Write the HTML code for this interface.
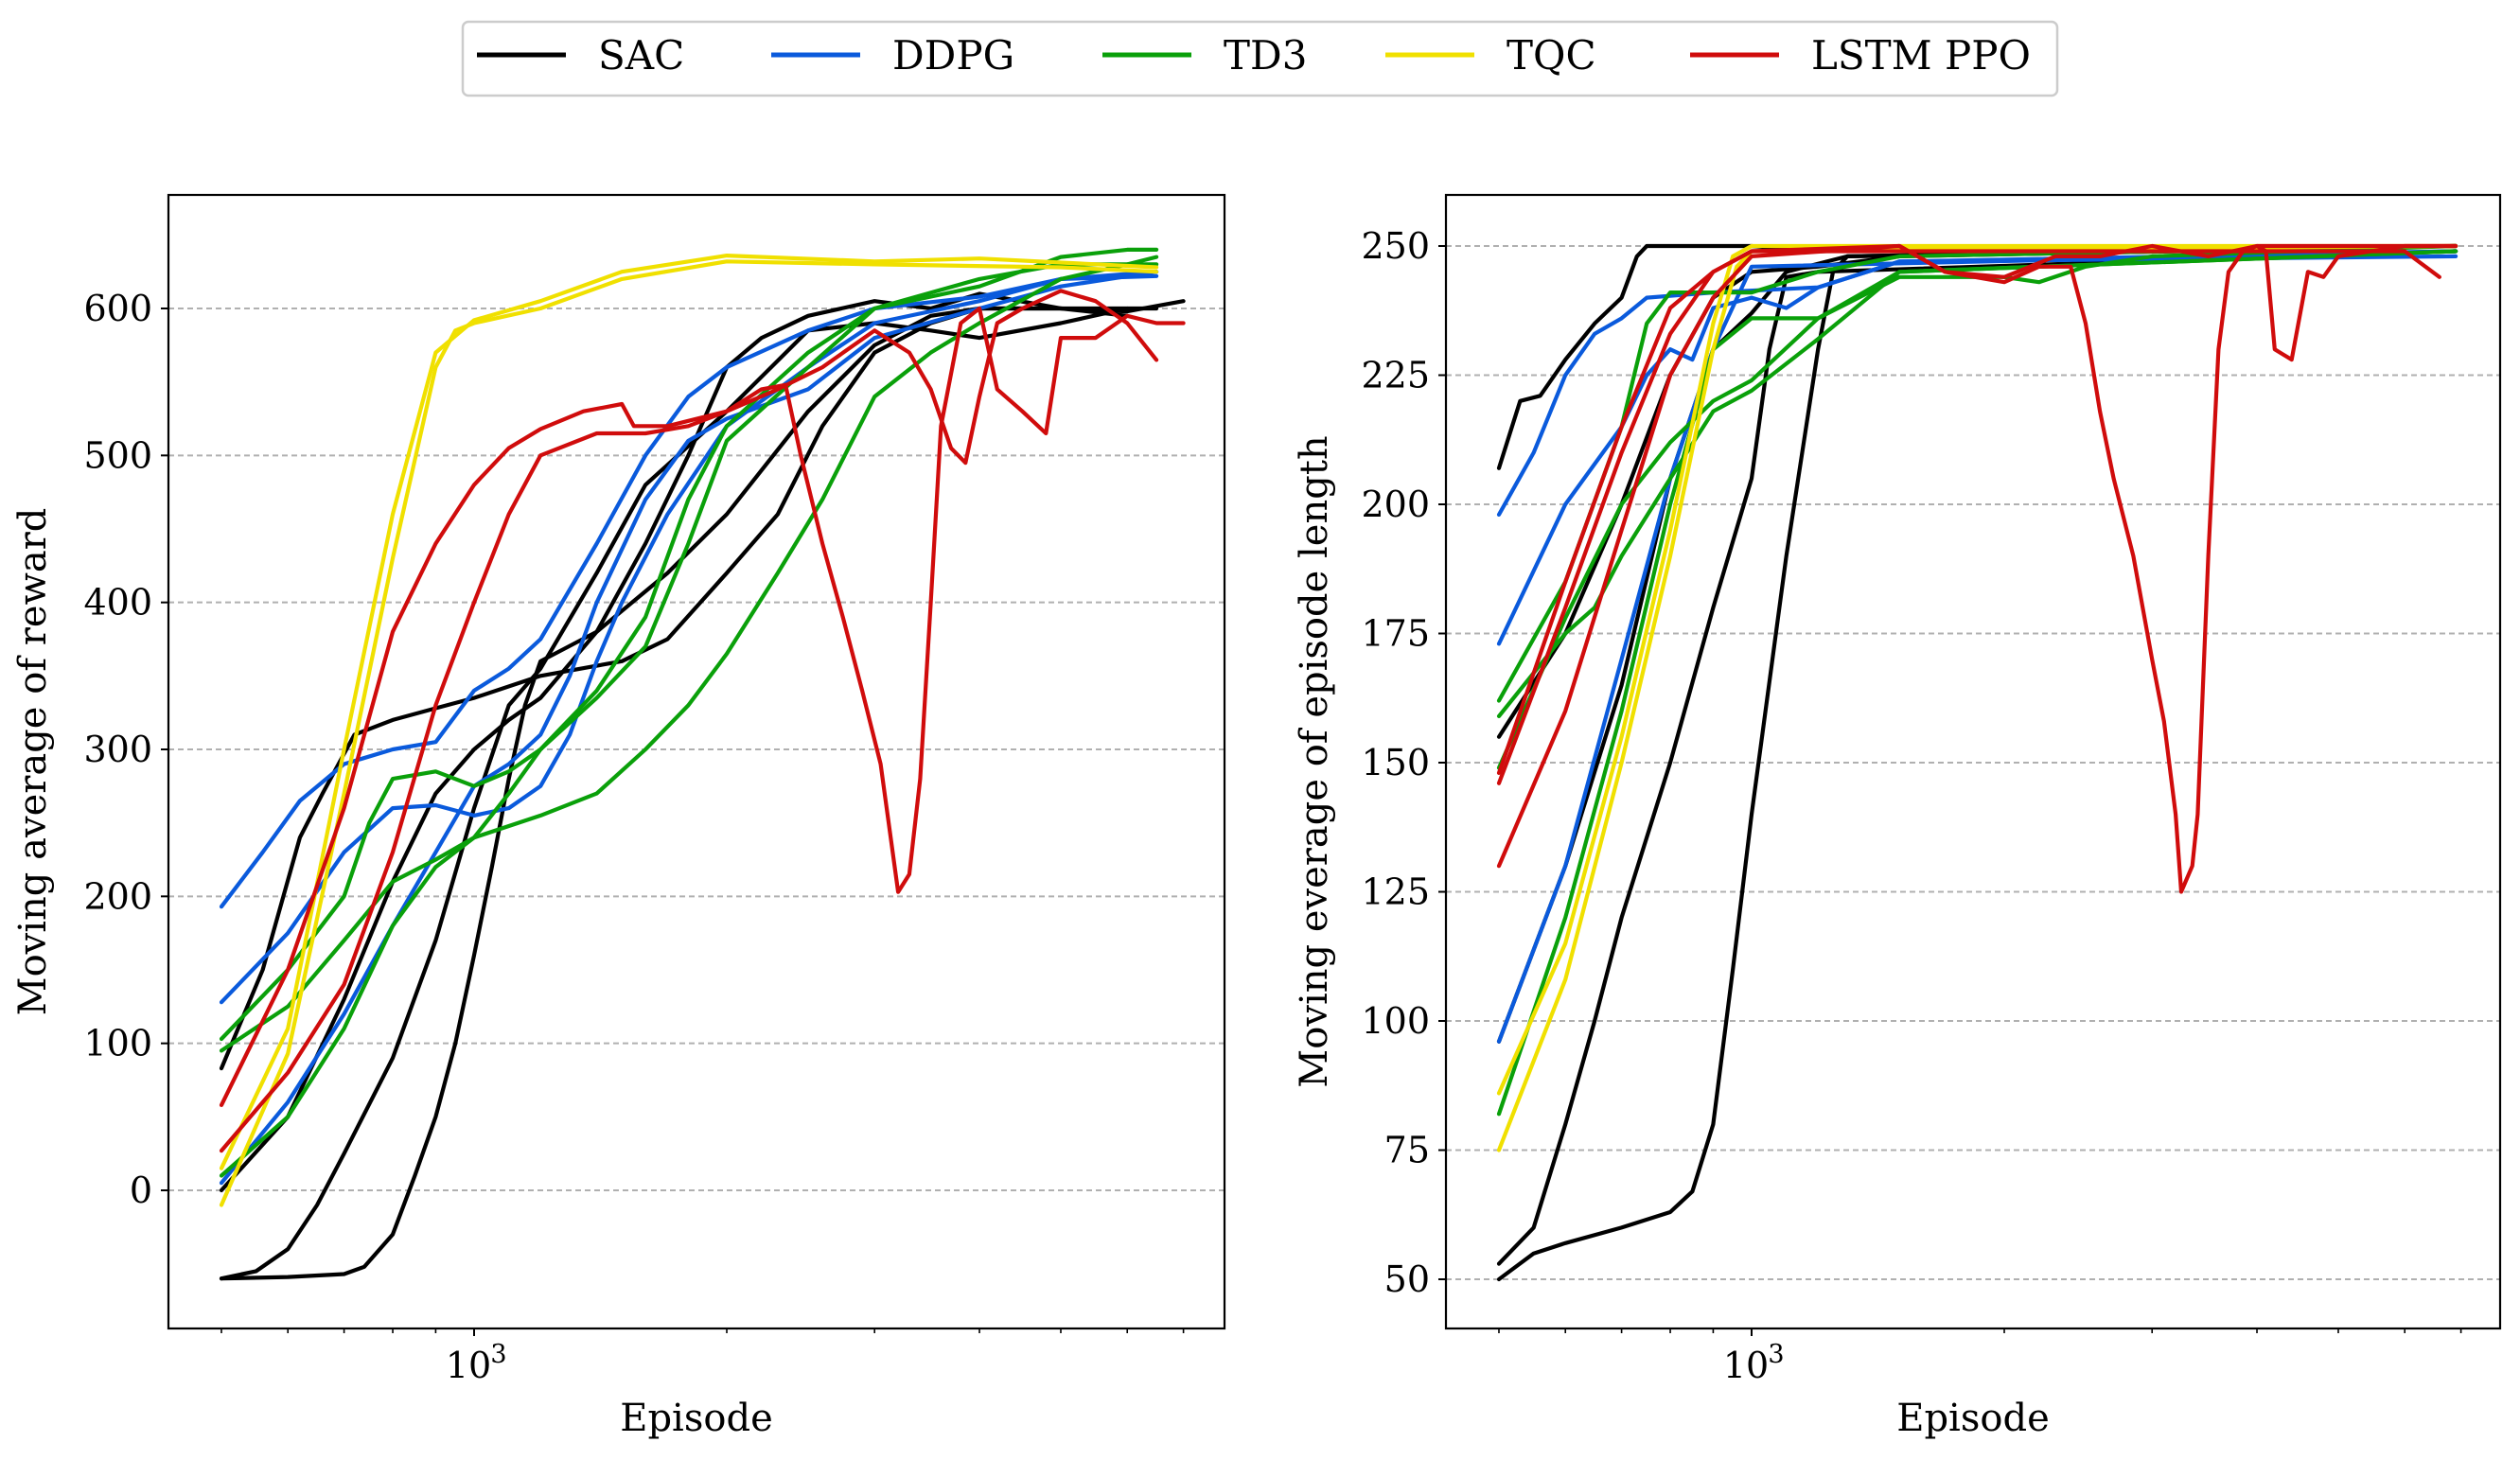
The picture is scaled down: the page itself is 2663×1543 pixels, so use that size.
<!DOCTYPE html>
<html><head><meta charset="utf-8">
<style>
html,body{margin:0;padding:0;background:#fff;}
svg{display:block;font-family:"DejaVu Serif","Liberation Serif",serif;}
</style></head>
<body>
<svg id="chart" width="2663" height="1543" viewBox="0 0 2663 1543" xmlns="http://www.w3.org/2000/svg">
  <rect width="2663" height="1543" fill="#fff"/>
  <g id="legend">
    <rect x="489" y="23" width="1685" height="78" rx="6" fill="#fff" stroke="#cccccc" stroke-width="2.5"/>
  </g>
  <g id="left"></g>
  <g id="right"></g>
</svg>
<script>
// ---- categories ----
const algorithms = ["SAC","DDPG","TD3","TQC","LSTM PPO"];
const algoColors = ["#000000","#0a5adc","#0aa00a","#f0e000","#d00c0c"];
const rewardTicks = [0,100,200,300,400,500,600];
const lengthTicks = [50,75,100,125,150,175,200,225,250];
const minorEpisodes = [500,600,700,800,900,2000,3000,4000,5000,6000,7000];

// ---- Reward runs (episode arrays, value arrays) ----
const sacRew1Ep = [500,560,620,660,720,800,900,1000,1200,1500,1700,2000,2300,2600,3000,3500,4000,5000,6000,7000];
const sacRew1 =   [83,150,240,270,310,320,328,335,350,360,375,420,460,520,570,590,600,600,598,605];
const sacRew2Ep = [500,600,700,800,900,1000,1100,1200,1400,1600,1800,2000,2200,2500,3000,3500,4000,5000,6500];
const sacRew2 =   [0,50,130,210,270,300,320,335,380,440,500,560,580,595,605,600,610,600,600];
const sacRew3Ep = [500,550,600,650,700,800,900,1000,1100,1200,1400,1600,2000,2500,3000,3500,4000,5000,6000];
const sacRew3 =   [-60,-55,-40,-10,25,90,170,260,330,355,420,480,530,585,590,585,580,590,600];
const sacRew4Ep = [500,600,700,740,800,850,900,950,1000,1050,1100,1150,1200,1400,1700,2000,2500,3000,3500,4000,5000,6000];
const sacRew4 =   [-60,-59,-57,-52,-30,10,50,100,160,220,280,330,360,380,420,460,530,575,595,600,600,595];

const ddpgRew1Ep = [500,560,620,700,800,900,1000,1100,1200,1400,1600,1800,2000,2500,3000,4000,5000,6500];
const ddpgRew1 =   [193,230,265,290,300,305,340,355,375,440,500,540,560,585,600,608,620,622];
const ddpgRew2Ep = [500,600,700,800,900,1000,1100,1200,1300,1400,1500,1700,2000,2500,3000,4000,5000,6500];
const ddpgRew2 =   [128,175,230,260,262,255,260,275,310,360,400,460,520,560,590,605,620,625];
const ddpgRew3Ep = [500,600,700,800,900,1000,1100,1200,1300,1400,1600,1800,2000,2500,3000,4000,5000,6500];
const ddpgRew3 =   [5,60,120,180,230,275,290,310,350,400,470,510,525,545,580,600,615,625];

const td3Rew1Ep = [500,600,700,750,800,900,1000,1100,1200,1400,1600,1800,2000,2500,3000,4000,5000,6000,6500];
const td3Rew1 =   [103,150,200,250,280,285,275,285,300,340,390,470,520,570,600,615,635,640,640];
const td3Rew2Ep = [500,600,700,800,900,1000,1200,1400,1600,1800,2000,2300,2600,3000,3500,4000,5000,6000,6500];
const td3Rew2 =   [95,125,170,210,225,240,255,270,300,330,365,420,470,540,570,590,620,630,635];
const td3Rew3Ep = [500,600,700,800,900,1000,1100,1200,1400,1600,1800,2000,2500,3000,4000,5000,6500];
const td3Rew3 =   [10,50,110,180,220,240,270,300,335,370,440,510,560,600,620,630,630];

const tqcRew1Ep = [500,600,700,800,900,950,1000,1200,1500,2000,3000,5000,6500];
const tqcRew1 =   [-10,93,270,430,560,585,590,600,620,632,630,628,625];
const tqcRew2Ep = [500,600,700,800,900,1000,1200,1500,2000,3000,4000,6500];
const tqcRew2 =   [15,110,300,460,570,592,605,625,636,632,634,628];

const ppoRew1Ep = [500,600,700,800,900,1000,1100,1200,1350,1500,1550,1700,2000,2300,2600,3000,3300,3500,3700,3850,4000,4200,4500,5000,5500,6000,6500];
const ppoRew1 =   [58,150,260,380,440,480,505,518,530,535,520,520,530,545,560,585,570,545,505,495,540,590,600,612,605,590,565];
const ppoRew2Ep = [500,600,700,800,900,1000,1100,1200,1400,1600,1800,2000,2200,2350,2450,2600,2750,2900,3050,3200,3300,3400,3500,3600,3800,4000,4200,4500,4800,5000,5500,6000,6500,7000];
const ppoRew2 =   [27,80,140,230,330,400,460,500,515,515,520,530,545,548,500,440,390,340,290,203,215,280,400,520,590,600,545,530,515,580,580,595,590,590];

// ---- Episode length runs ----
const sacLen1Ep = [500,530,560,600,650,700,730,750,1000,1200,6900];
const sacLen1 =   [207,220,221,228,235,240,248,250,250,249,250];
const sacLen2Ep = [500,600,700,800,900,1000,1200,1500,6900];
const sacLen2 =   [155,175,200,225,240,245,246,248,250];
const sacLen3Ep = [500,600,700,800,900,1000,1100,1300,6900];
const sacLen3 =   [96,130,165,205,230,237,245,248,250];
const sacLen4Ep = [500,550,600,650,700,800,900,1000,1050,1100,1200,6900];
const sacLen4 =   [53,60,80,100,120,150,180,205,230,244,245,249];
const sacLen5Ep = [500,550,600,700,800,850,900,950,1000,1100,1200,1250,1300,6900];
const sacLen5 =   [50,55,57,60,63,67,80,110,140,190,230,245,248,250];

const ddpgLen1Ep = [500,550,600,650,700,750,900,1200,1500,6900];
const ddpgLen1 =   [198,210,225,233,236,240,241,242,247,248];
const ddpgLen2Ep = [500,600,700,750,800,850,900,1000,1100,1200,1500,6900];
const ddpgLen2 =   [173,200,215,225,230,228,238,240,238,242,247,249];
const ddpgLen3Ep = [500,600,700,800,900,1000,6900];
const ddpgLen3 =   [96,130,170,205,230,246,249];

const td3Len1Ep = [500,600,700,750,800,1000,1200,1500,6900];
const td3Len1 =   [162,185,215,235,241,241,245,248,250];
const td3Len2Ep = [500,600,700,800,900,1000,1200,1500,2000,2200,2500,3000,6900];
const td3Len2 =   [149,178,200,212,220,224,236,244,244,243,246,248,250];
const td3Len3Ep = [500,600,700,800,900,1000,1200,1500,6900];
const td3Len3 =   [82,120,160,200,230,236,236,245,249];
const td3Len4Ep = [500,600,650,700,800,900,1000,1200,1500,6900];
const td3Len4 =   [159,175,180,190,205,218,222,232,245,249];

const tqcLen1Ep = [500,600,700,800,900,950,1000,6900];
const tqcLen1 =   [86,115,155,195,235,248,250,250];
const tqcLen2Ep = [500,600,700,800,900,960,1000,6900];
const tqcLen2 =   [75,108,150,190,230,246,249,250];

const ppoLen1Ep = [500,600,700,800,900,1000,1500,1700,2000,2300,2600,3000,3500,4000,6900];
const ppoLen1 =   [146,180,210,233,245,249,250,245,244,248,248,250,248,250,250];
const ppoLen2Ep = [500,600,700,800,900,1000,1500,1700,2000,2200,2400,2500,2600,2700,2850,3000,3100,3200,3250,3350,3400,3500,3600,3700,3850,4000,4100,4200,4400,4600,4800,5000,6000,6900];
const ppoLen2 =   [130,160,195,225,240,248,250,245,243,246,246,235,218,205,190,170,158,140,125,130,140,190,230,245,249,250,249,230,228,245,244,248,250,250];
const ppoLen3Ep = [500,600,700,800,900,1000,6000,6600];
const ppoLen3 =   [148,185,215,238,245,249,249,244];

// ---- axis functions ----
const PX_DEC = 887;
function xLeft(ep){ return 501 + PX_DEC*Math.log10(ep/1000); }
function xRight(ep){ return 1851 + PX_DEC*Math.log10(ep/1000); }
function yReward(v){ return 1258 - v*(932/600); }
function yLength(v){ return 1352 - (v-50)*(1092/200); }

const NS = "http://www.w3.org/2000/svg";
function mk(tag, attrs, parent){
  const e = document.createElementNS(NS, tag);
  for (const k in attrs) e.setAttribute(k, attrs[k]);
  parent.appendChild(e);
  return e;
}

function drawPanel(g, box, xf, yf, ticks, ylabel, ylabX, runs, prefix){
  ticks.forEach(t=>{
    const gl = mk("line",{x1:box.l,x2:box.r,y1:yf(t),y2:yf(t),stroke:"#b0b0b0","stroke-width":2,"stroke-dasharray":"6,4"},g);
    
    
  });
  const cid = prefix+"-clip";
  const cp = mk("clipPath",{id:cid},g);
  mk("rect",{x:box.l,y:box.t,width:box.r-box.l,height:box.b-box.t},cp);
  const lines = mk("g",{"clip-path":"url(#"+cid+")"},g);
  runs.forEach(run=>{
    let d = "";
    run.ep.forEach((e,i)=>{ d += (i?"L":"M") + xf(e).toFixed(1) + "," + yf(run.v[i]).toFixed(1); });
    const p = mk("path",{d:d,fill:"none",stroke:algoColors[run.a],"stroke-width":4.2,"stroke-linejoin":"round","stroke-linecap":"round"},lines);
    
    
  });
  const fr = mk("rect",{x:box.l,y:box.t,width:box.r-box.l,height:box.b-box.t,fill:"none",stroke:"#000","stroke-width":2.2},g);
  
  
  ticks.forEach(t=>{
    const y = yf(t);
    mk("line",{x1:box.l-8,x2:box.l,y1:y,y2:y,stroke:"#000","stroke-width":2},g);
    const tx = mk("text",{x:box.l-17,y:y+13,"text-anchor":"end","font-size":38,fill:"#000"},g);
    tx.textContent = t;
    
    
  });
  const mx = xf(1000);
  mk("line",{x1:mx,x2:mx,y1:box.b,y2:box.b+8,stroke:"#000","stroke-width":2},g);
  minorEpisodes.forEach(e=>{
    const x = xf(e);
    if (x>box.l && x<box.r) mk("line",{x1:x,x2:x,y1:box.b,y2:box.b+5,stroke:"#000","stroke-width":1.6},g);
  });
  const xt = mk("text",{x:mx-6,y:box.b+52,"text-anchor":"middle","font-size":38,fill:"#000"},g);
  xt.textContent = "10";
  
  
  const sup = mk("text",{x:mx+26,y:box.b+36,"text-anchor":"middle","font-size":27,fill:"#000"},g);
  sup.textContent = "3";
  const xl = mk("text",{x:(box.l+box.r)/2,y:1512,"text-anchor":"middle","font-size":40,fill:"#000"},g);
  xl.textContent = "Episode";
  
  
  const cy = (box.t+box.b)/2;
  const yl = mk("text",{x:ylabX,y:cy,"text-anchor":"middle","font-size":40,fill:"#000",transform:"rotate(-90 "+ylabX+" "+cy+")"},g);
  yl.textContent = ylabel;
  
  
}

const leftRuns = [
  {a:0,ep:sacRew1Ep,v:sacRew1},{a:0,ep:sacRew2Ep,v:sacRew2},{a:0,ep:sacRew3Ep,v:sacRew3},{a:0,ep:sacRew4Ep,v:sacRew4},
  {a:1,ep:ddpgRew1Ep,v:ddpgRew1},{a:1,ep:ddpgRew2Ep,v:ddpgRew2},{a:1,ep:ddpgRew3Ep,v:ddpgRew3},
  {a:2,ep:td3Rew1Ep,v:td3Rew1},{a:2,ep:td3Rew2Ep,v:td3Rew2},{a:2,ep:td3Rew3Ep,v:td3Rew3},
  {a:3,ep:tqcRew1Ep,v:tqcRew1},{a:3,ep:tqcRew2Ep,v:tqcRew2},
  {a:4,ep:ppoRew1Ep,v:ppoRew1},{a:4,ep:ppoRew2Ep,v:ppoRew2}
];
const rightRuns = [
  {a:0,ep:sacLen1Ep,v:sacLen1},{a:0,ep:sacLen2Ep,v:sacLen2},{a:0,ep:sacLen3Ep,v:sacLen3},{a:0,ep:sacLen4Ep,v:sacLen4},{a:0,ep:sacLen5Ep,v:sacLen5},
  {a:1,ep:ddpgLen1Ep,v:ddpgLen1},{a:1,ep:ddpgLen2Ep,v:ddpgLen2},{a:1,ep:ddpgLen3Ep,v:ddpgLen3},
  {a:2,ep:td3Len1Ep,v:td3Len1},{a:2,ep:td3Len2Ep,v:td3Len2},{a:2,ep:td3Len3Ep,v:td3Len3},{a:2,ep:td3Len4Ep,v:td3Len4},
  {a:3,ep:tqcLen1Ep,v:tqcLen1},{a:3,ep:tqcLen2Ep,v:tqcLen2},
  {a:4,ep:ppoLen1Ep,v:ppoLen1},{a:4,ep:ppoLen2Ep,v:ppoLen2},{a:4,ep:ppoLen3Ep,v:ppoLen3}
];

drawPanel(document.getElementById("left"),{l:178,r:1294,t:206,b:1404},xLeft,yReward,rewardTicks,"Moving average of reward",48,leftRuns,"reward");
drawPanel(document.getElementById("right"),{l:1528,r:2642,t:206,b:1404},xRight,yLength,lengthTicks,"Moving everage of episode length",1402,rightRuns,"length");

const lg = document.getElementById("legend");
const legLineX = [504,815,1165,1464,1786];
algorithms.forEach((name,i)=>{
  const ln = mk("line",{x1:legLineX[i],x2:legLineX[i]+94,y1:58,y2:58,stroke:algoColors[i],"stroke-width":5},lg);
  
  
  const t = mk("text",{x:legLineX[i]+128,y:73,"font-size":42,fill:"#000"},lg);
  t.textContent = name;
  
  
});
</script>
</body></html>
